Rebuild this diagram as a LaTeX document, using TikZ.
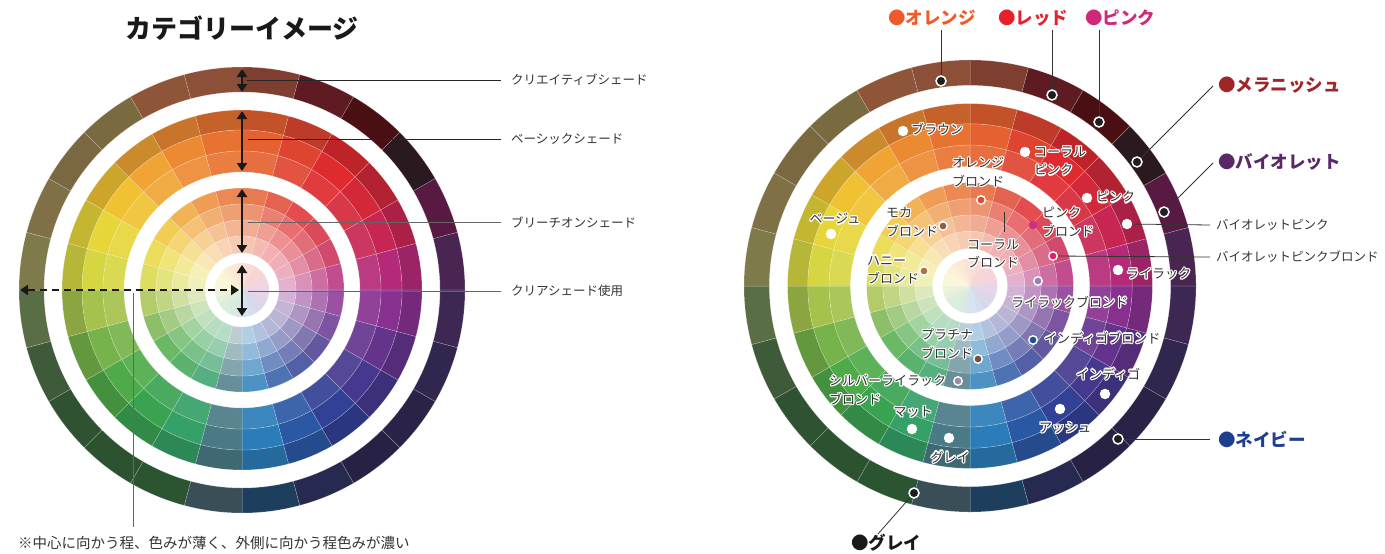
\documentclass[tikz,border=0pt]{standalone}
\usepackage{fontspec}
\setmainfont{Noto Sans CJK JP}
\usetikzlibrary{arrows.meta,calc}
\definecolor{txtdark}{HTML}{333333}
\definecolor{leadgray}{HTML}{666666}
\definecolor{cOrange}{HTML}{F05A28}
\definecolor{cRed}{HTML}{E8202A}
\definecolor{cPink}{HTML}{D02878}
\definecolor{cMel}{HTML}{A02428}
\definecolor{cViolet}{HTML}{5A2868}
\definecolor{cNavy}{HTML}{1E3F90}
\newcommand\mysector[5]{\path[fill=#1,draw=white,draw opacity=.3,line width=.5] (#2:#4) arc[start angle=#2,end angle=#3,radius=#4] -- (#3:#5) arc[start angle=#3,end angle=#2,radius=#5] -- cycle;}
\newcommand\colwheel{%
 \foreach \k/\hb/\ho in {0/E5612F/7E3E30,1/DF4430/5E1C22,2/DF2A2E/4A0F12,3/D32839/2A1A1F,4/C82652/581A42,5/B52A78/4A2552,6/88308F/3C2852,7/64348D/31264E,8/45388E/2B2347,9/324095/272244,10/2B58A5/262A50,11/2A7DB8/1E3E5E,12/4A7A86/3A4E58,13/35A068/2A5530,14/3AA352/2C5230,15/4FAA4A/2F5232,16/76B34A/3E5A38,17/A4C24C/5A6E45,18/D6D643/7E7A4A,19/E7D63A/807045,20/F0C232/7A6840,21/EFA434/7A6A40,22/EC8933/8E5538,23/E87331/8C4F38}{%
  \edef\tmp{\noexpand\definecolor{wb}{HTML}{\hb}\noexpand\definecolor{wo}{HTML}{\ho}}\tmp
  \pgfmathsetmacro\ta{15*\k-90}\pgfmathsetmacro\tb{15*\k-75}%
  \mysector{wo}{\ta}{\tb}{198}{223}
  \mysector{wb!85!black}{\ta}{\tb}{160}{180}
  \mysector{wb}{\ta}{\tb}{139}{160}
  \mysector{wb!92!white}{\ta}{\tb}{118}{139}
  \mysector{wb!84!white}{\ta}{\tb}{86}{102}
  \mysector{wb!68!white}{\ta}{\tb}{70}{86}
  \mysector{wb!52!white}{\ta}{\tb}{54}{70}
  \mysector{wb!37!white}{\ta}{\tb}{37}{54}
  \path[fill=wb!20!white] (0,0) -- (\ta:27) arc[start angle=\ta,end angle=\tb,radius=27] -- cycle;
 }}
\newcommand\hl[4]{%
  \foreach \aa in {0,30,...,330}{\node[inlbl,text=white,#2] at ($(#3)+(\aa:1.2)$) {#4};}%
  \node[inlbl,text=txtdark,#2] (#1) at (#3) {#4};}
\tikzset{
  dblarrow/.style={line width=2.6pt,draw=black!90,{Triangle[width=10pt,length=8pt]}-{Triangle[width=10pt,length=8pt]}},
  dasharrow/.style={line width=2.4pt,draw=black!90,dash pattern=on 7pt off 5pt,{Triangle[width=10pt,length=8pt]}-{Triangle[width=10pt,length=8pt]}},
  leadk/.style={draw=black!85,line width=.9pt},
  leadg/.style={draw=leadgray,line width=.9pt},
  lead/.style={draw=txtdark,line width=.8pt},
  sidelbl/.style={font=\fontsize{12.5}{15}\selectfont,text=txtdark,anchor=west,inner sep=0pt},
  inlbl/.style={font=\fontsize{13}{18.5}\selectfont,inner sep=0pt,align=left},
  biglbl/.style={font=\fontsize{17.5}{20}\selectfont\bfseries,anchor=west,inner sep=0pt},
  wdot/.style={circle,fill=white,inner sep=0pt,minimum size=10.5pt},
  cdot/.style={circle,draw=white,line width=1.4pt,inner sep=0pt,minimum size=8.5pt},
  kdot/.style={circle,fill=black!88,draw=white,line width=1.5pt,inner sep=0pt,minimum size=10pt},
}
\begin{document}
\begin{tikzpicture}[x=1pt,y=-1pt]
\useasboundingbox (0,0) rectangle (1385,554);
\fill[white] (0,0) rectangle (1385,554);
% ---------- left wheel ----------
\begin{scope}[shift={(242,290)}]
\colwheel
\end{scope}
\node[font=\fontsize{26}{28}\selectfont\bfseries,text=black!90,inner sep=0pt] (title) at (242,28) {カテゴリーイメージ};
\coordinate (a1t) at (242,69); \coordinate (a1b) at (242,92);
\coordinate (a2t) at (242,111); \coordinate (a2b) at (242,171);
\coordinate (a3t) at (242,189); \coordinate (a3b) at (242,253);
\coordinate (a4t) at (242,265); \coordinate (a4b) at (242,316);
\draw[dblarrow] (a1t) -- (a1b);
\draw[dblarrow] (a2t) -- (a2b);
\draw[dblarrow] (a3t) -- (a3b);
\draw[dblarrow] (a4t) -- (a4b);
\coordinate (dl) at (20,290); \coordinate (dr) at (239,290);
\draw[dasharrow] (dl) -- (dr);
\node[sidelbl] (l1) at (511,80) {クリエイティブシェード};
\node[sidelbl] (l2) at (511,139) {ベーシックシェード};
\node[sidelbl] (l3) at (511,222) {ブリーチオンシェード};
\node[sidelbl] (l4) at (511,291) {クリアシェード使用};
\coordinate (m1) at (247,80); \coordinate (m2) at (248,139);
\coordinate (m3) at (248,222); \coordinate (m4) at (248,291);
\draw[leadk] (m1) -- ($(l1.west)+(-10,0)$);
\draw[leadk] (m2) -- ($(l2.west)+(-10,0)$);
\draw[leadg] (m3) -- ($(l3.west)+(-10,0)$);
\draw[leadg] (m4) -- ($(l4.west)+(-10,0)$);
\coordinate (vtop) at (133,293); \coordinate (vbot) at (133,527);
\draw[leadg] (vtop) -- (vbot);
\node[font=\fontsize{14.5}{17}\selectfont,text=txtdark,anchor=west,inner sep=0pt] (note) at (18,543) {※中心に向かう程、色みが薄く、外側に向かう程色みが濃い};
% ---------- right wheel ----------
\begin{scope}[shift={(970,286)},scale=1.0135]
\colwheel
\end{scope}
% top / side category labels
\node[biglbl,text=cOrange] (LOr) at (888,18) {●オレンジ};
\node[biglbl,text=cRed] (LRe) at (998,18) {●レッド};
\node[biglbl,text=cPink] (LPi) at (1085,18) {●ピンク};
\node[biglbl,text=cMel] (LMe) at (1218,85) {●メラニッシュ};
\node[biglbl,text=cViolet] (LVi) at (1218,162) {●バイオレット};
\node[biglbl,text=cNavy] (LNa) at (1218,439) {●ネイビー};
\node[biglbl,text=black!90] (LGr) at (851,543) {●グレイ};
\node[sidelbl] (LVP) at (1216,225) {バイオレットピンク};
\node[sidelbl] (LVPB) at (1216,257) {バイオレットピンクブロンド};
% outer dots
\node[kdot] (dOr) at (941,81) {};
\node[kdot] (dRe) at (1052,95) {};
\node[kdot] (dPi) at (1099,122) {};
\node[kdot] (dMe) at (1137,162) {};
\node[kdot] (dVi) at (1164,212) {};
\node[kdot] (dNa) at (1118,439) {};
\node[kdot] (dGr) at (914,493) {};
\coordinate (eOr) at (941,30); \coordinate (eRe) at (1052,30); \coordinate (ePi) at (1099,30);
\coordinate (eMe) at (1213,86); \coordinate (eVi) at (1213,163);
\coordinate (eNa) at (1210,439); \coordinate (eGr) at (878,534);
\draw[lead] (dOr) -- (eOr);
\draw[lead] (dRe) -- (eRe);
\draw[lead] (dPi) -- (ePi);
\draw[lead] (dMe) -- (eMe);
\draw[lead] (dVi) -- (eVi);
\draw[lead] (dNa) -- (eNa);
\draw[lead] (dGr) -- (eGr);
% inner white dots
\node[wdot] (wBr) at (903,131) {};
\node[wdot] (wCP) at (1025,152) {};
\node[wdot] (wPk) at (1087,198) {};
\node[wdot] (wBe) at (831,234) {};
\node[wdot] (wVP) at (1127,224) {};
\node[wdot] (wLi) at (1118,270) {};
\node[wdot] (wIn) at (1105,394) {};
\node[wdot] (wAs) at (1060,409) {};
\node[wdot] (wMa) at (912,429) {};
\node[wdot] (wGr) at (949,438) {};
% inner coloured dots
\node[cdot,fill={rgb,255:red,232;green,69;blue,42}] (cOB) at (981,200) {};
\node[cdot,fill={rgb,255:red,208;green,44;blue,138},draw=none] (cPB) at (1033,225) {};
\node[cdot,fill={rgb,255:red,140;green,94;blue,76}] (cMo) at (943,226) {};
\node[cdot,fill={rgb,255:red,176;green,112;blue,64}] (cHo) at (924,271) {};
\node[cdot,fill={rgb,255:red,224;green,32;blue,110}] (cVPB) at (1053,256) {};
\node[cdot,fill={rgb,255:red,154;green,126;blue,192}] (cLB) at (1038,281) {};
\node[cdot,fill={rgb,255:red,26;green,82;blue,160}] (cIB) at (1033,340) {};
\node[cdot,fill={rgb,255:red,112;green,80;blue,58}] (cPl) at (978,359) {};
\node[cdot,fill={rgb,255:red,156;green,140;blue,160}] (cSL) at (958,381) {};
\draw[lead] (wVP) -- (LVP.west -| 1210,0);
\draw[lead] (cVPB) -- (LVPB.west -| 1210,0);
% inner labels with halo
\hl{tBr}{anchor=west}{911,129}{ブラウン}
\hl{tCP}{anchor=west}{1034,161}{コーラル\\ピンク}
\hl{tOB}{anchor=west}{952,172}{オレンジ\\ブロンド}
\hl{tPk}{anchor=west}{1096,197}{ピンク}
\hl{tPB}{anchor=west}{1042,222}{ピンク\\ブロンド}
\hl{tMo}{anchor=west}{886,222}{モカ\\ブロンド}
\hl{tCB}{anchor=west}{967,254}{コーラル\\ブロンド}
\hl{tBe}{}{835,219}{ベージュ}
\hl{tHo}{anchor=west}{867,270}{ハニー\\ブロンド}
\hl{tLi}{anchor=west}{1126,274}{ライラック}
\hl{tLB}{anchor=west}{1011,302}{ライラックブロンド}
\hl{tIB}{anchor=west}{1044,338}{インディゴブロンド}
\hl{tPl}{anchor=west}{921,344}{プラチナ\\ブロンド}
\hl{tIn}{anchor=west}{1076,374}{インディゴ}
\hl{tSL}{anchor=west}{829,390}{シルバーライラック\\ブロンド}
\hl{tMa}{}{913,412}{マット}
\hl{tAs}{}{1065,428}{アッシュ}
\hl{tGr}{}{950,457}{グレイ}
\coordinate (cbt) at (1004,212); \coordinate (cbb) at (1004,232);
\draw[lead] (cbt) -- (cbb);
\end{tikzpicture}
\end{document}
